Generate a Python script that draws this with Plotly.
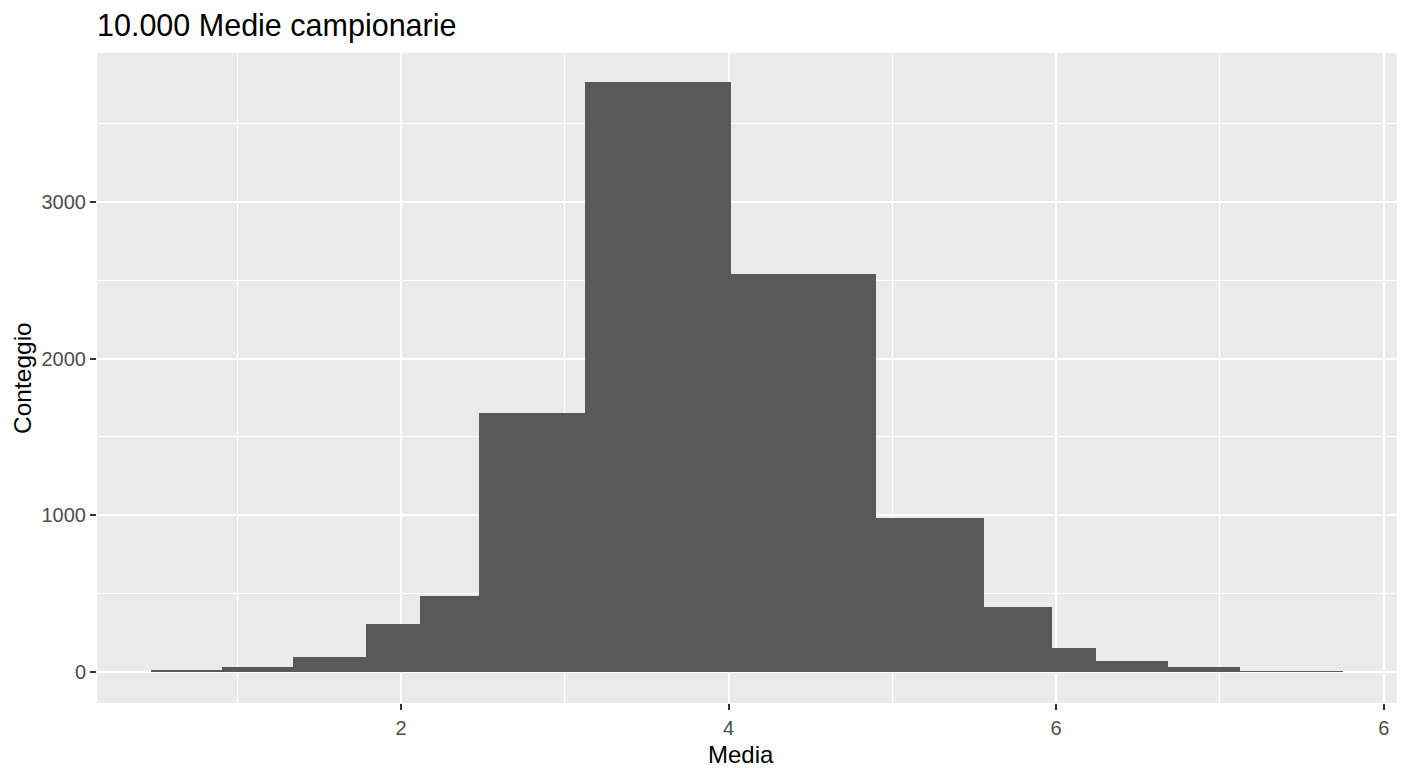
import plotly.graph_objects as go

# Bin edges (Media) and counts (Conteggio)
bin_edges = [0.472, 0.905, 1.343, 1.785, 2.116, 2.478, 3.123, 4.013,
             4.898, 5.559, 5.976, 6.246, 6.684, 7.120, 7.749]
counts = [13, 34, 94, 306, 487, 1655, 3768, 2540, 981, 413, 151, 70, 30, 6]

x_tickvals = [2, 4, 6, 8]
x_ticktext = ["2", "4", "6", "6"]
x_minor = [1, 3, 5, 7]
y_tickvals = [0, 1000, 2000, 3000]
y_ticktext = ["0", "1000", "2000", "3000"]
y_minor = [500, 1500, 2500, 3500]

centers = [(a + b) / 2 for a, b in zip(bin_edges[:-1], bin_edges[1:])]
widths = [b - a for a, b in zip(bin_edges[:-1], bin_edges[1:])]

fig = go.Figure(go.Bar(
    x=centers, y=counts, width=widths,
    marker=dict(color="#595959", line=dict(width=0)),
    hovertemplate="Media: %{x}<br>Conteggio: %{y}<extra></extra>",
))

font_family = "Liberation Sans, Arial, sans-serif"

fig.update_layout(
    width=1408, height=768,
    paper_bgcolor="white", plot_bgcolor="#EBEBEB",
    margin=dict(l=97, r=11, t=53, b=65, autoexpand=False),
    font=dict(family=font_family, color="black"),
    title=dict(text="10.000 Medie campionarie", x=97 / 1408, xanchor="left", xref="container",
               y=1 - 25 / 768, yanchor="middle", yref="container",
               font=dict(size=30.5, color="black", family=font_family)),
    showlegend=False,
    bargap=0,
    annotations=[
        dict(text="Media", xref="paper", yref="paper", x=0.495, y=-0.0785,
             xanchor="center", yanchor="middle", showarrow=False,
             font=dict(size=24, color="black")),
        dict(text="Conteggio", xref="paper", yref="paper", x=-0.0577, y=0.5,
             xanchor="center", yanchor="middle", showarrow=False, textangle=-90,
             font=dict(size=24.5, color="black")),
    ],
)

fig.update_xaxes(
    range=[0.144, 8.081], automargin=False,
    tickmode="array", tickvals=x_tickvals, ticktext=x_ticktext,
    ticks="outside", ticklen=6, tickwidth=1.5, tickcolor="#333333",
    tickfont=dict(size=20, color="#4D4D4D"), ticklabelstandoff=1,
    showgrid=True, gridcolor="white", gridwidth=2.2,
    minor=dict(tickmode="array", tickvals=x_minor, showgrid=True, gridcolor="white", gridwidth=1.1, ticks=""),
    zeroline=False, showline=False,
)
fig.update_yaxes(
    range=[-198, 3951], automargin=False,
    tickmode="array", tickvals=y_tickvals, ticktext=y_ticktext,
    ticks="outside", ticklen=6, tickwidth=1.5, tickcolor="#333333",
    tickfont=dict(size=20, color="#4D4D4D"),
    showgrid=True, gridcolor="white", gridwidth=2.2,
    minor=dict(tickmode="array", tickvals=y_minor, showgrid=True, gridcolor="white", gridwidth=1.1, ticks=""),
    zeroline=False, showline=False,
)

fig.write_html("out.html")
